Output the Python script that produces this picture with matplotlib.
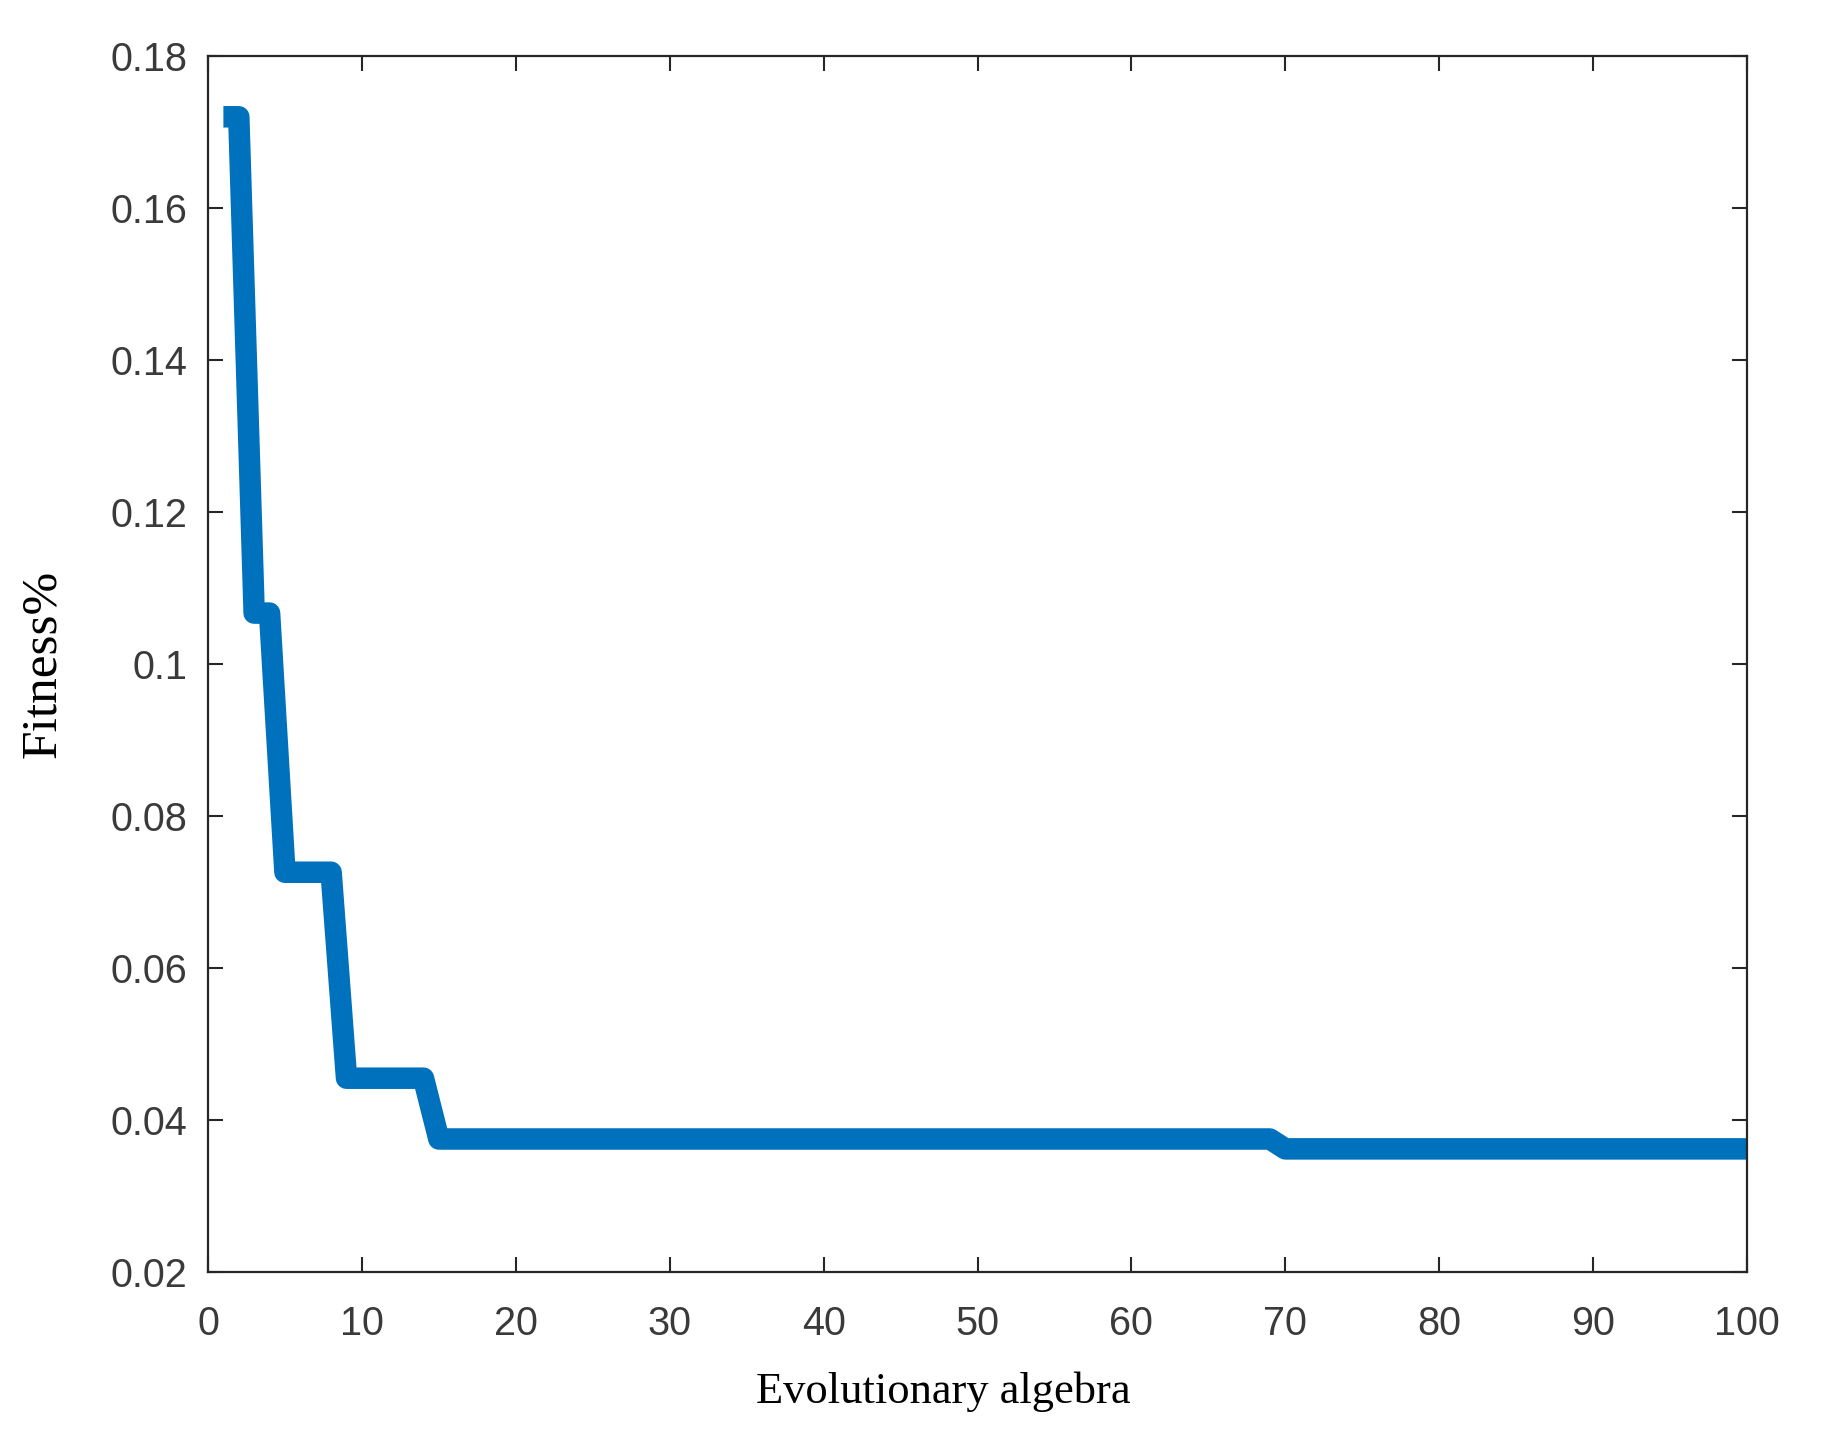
import numpy as np
import matplotlib.pyplot as plt

# corners of the best-fitness curve (generation, fitness)
generations = [1, 2, 3, 4, 5, 8, 9, 14, 15, 69, 70, 100]
fitness = [0.172, 0.172, 0.1067, 0.1067, 0.0726, 0.0726, 0.0455, 0.0455,
           0.0375, 0.0375, 0.0362, 0.0362]

xticks = [0, 10, 20, 30, 40, 50, 60, 70, 80, 90, 100]
yticks = [0.02, 0.04, 0.06, 0.08, 0.10, 0.12, 0.14, 0.16, 0.18]
ytick_labels = ['0.02', '0.04', '0.06', '0.08', '0.1', '0.12', '0.14', '0.16', '0.18']

W, H = 1823, 1433
fig = plt.figure(figsize=(W / 100, H / 100), dpi=100)
ax = fig.add_axes([208 / W, 1 - 1272 / H, (1747 - 208) / W, (1272 - 56) / H])

ax.plot(generations, fitness, color='#0072BD', linewidth=15.5,
        solid_joinstyle='round', solid_capstyle='butt')

ax.set_xlim(0, 100)
ax.set_ylim(0.02, 0.18)
ax.set_xticks(xticks)
ax.set_yticks(yticks)
ax.set_yticklabels(ytick_labels)

grey = '#262626'
for s in ax.spines.values():
    s.set_color(grey)
    s.set_linewidth(1.6)
ax.tick_params(direction='in', length=11, width=1.5, color=grey,
               top=True, right=True, labelsize=28.5, labelcolor='#3a3a3a')
ax.tick_params(axis='x', pad=24)
ax.tick_params(axis='y', pad=15)
for lab in ax.get_xticklabels() + ax.get_yticklabels():
    lab.set_family(['Liberation Sans', 'DejaVu Sans'])

ax.set_xlabel('Evolutionary algebra', fontsize=32, family='Liberation Serif', color='black')
ax.set_ylabel('Fitness%', fontsize=37, family='Liberation Serif', color='black')
ax.xaxis.set_label_coords((943 - 208) / (1747 - 208), -0.082)
ax.yaxis.set_label_coords(-0.092, 0.5)

plt.savefig('out.png', dpi=100)
